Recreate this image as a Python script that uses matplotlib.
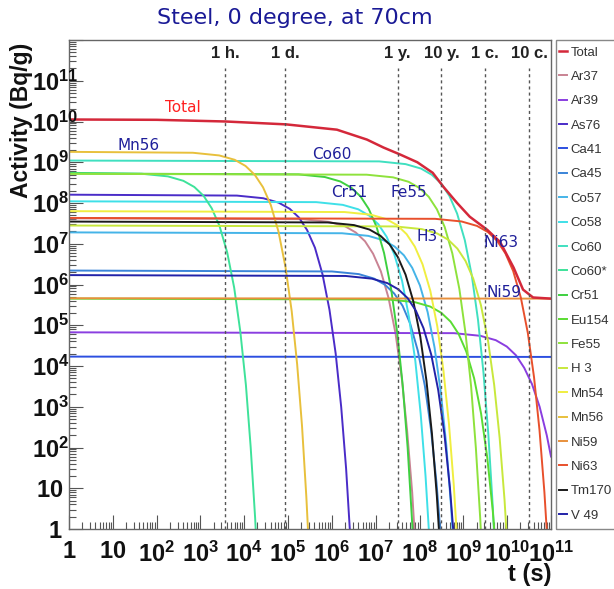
import matplotlib.pyplot as plt
from matplotlib.patches import Rectangle
from matplotlib.ticker import FixedLocator, LogLocator, NullFormatter

plt.rcParams['font.family'] = ['Liberation Sans', 'DejaVu Sans']
plt.rcParams['mathtext.fontset'] = 'custom'
plt.rcParams['mathtext.rm'] = 'Liberation Sans'
plt.rcParams['mathtext.bf'] = 'Liberation Sans:bold'
plt.rcParams['mathtext.it'] = 'Liberation Sans:italic'

# Данные: время (с) и активность (Бк/г)
total_t = [1, 100, 3.8e3, 9e4, 1.3e6, 6.3e6, 1.5e7, 3.6e7, 8.9e7, 2.0e8, 3.5e8,
           7.2e8, 1.4e9, 3.5e9, 6.9e9, 1.4e10, 2.3e10, 3.9e10, 1e11]
total_a = [1.12e10, 1.1e10, 1.0e10, 8.5e9, 6.3e9, 3.6e9, 2.3e9, 1.55e9, 1.0e9, 5.5e8,
           2.5e8, 1.0e8, 4.6e7, 2.2e7, 1.1e7, 2.6e6, 7.5e5, 4.8e5, 4.5e5]

ar37_t = [1, 2.2e5, 8.7e5, 2.0e6, 3.5e6, 5.7e6, 8.7e6, 1.31e7, 1.96e7, 2.83e7, 3.92e7, 5.2e7, 6.8e7, 8.5e7]
ar37_a = [4.2e7, 4.0e7, 3.44e7, 2.68e7, 1.89e7, 1.15e7, 5.7e6, 2.1e6, 4.7e5, 6.3e4, 5.2e3, 260, 7.8, 0.14]

ar39_t = [1, 6.1e8, 2.45e9, 5.5e9, 9.8e9, 1.59e10, 2.45e10, 3.68e10, 5.5e10, 8.0e10, 1e11]
ar39_a = [6.7e4, 6.4e4, 5.5e4, 4.3e4, 3.0e4, 1.83e4, 9.0e3, 3.6e3, 1.0e3, 200, 60]

as76_t = [1, 6.8e3, 2.7e4, 6.1e4, 1.09e5, 1.77e5, 2.72e5, 4.1e5, 6.1e5, 8.8e5, 1.22e6, 1.63e6, 2.11e6, 2.65e6]
as76_a = [1.6e8, 1.52e8, 1.31e8, 1.02e8, 7.2e7, 4.4e7, 2.16e7, 8.0e6, 1.78e6, 2.4e5, 2.0e4, 980, 30, 0.54]

ca41_t = [1, 1e11]
ca41_a = [1.7e4, 1.67e4]

ca45_t = [1, 1.0e6, 4.1e6, 9.1e6, 1.62e7, 2.64e7, 4.1e7, 6.1e7, 9.1e7, 1.32e8, 1.83e8, 2.44e8, 3.15e8]
ca45_a = [2.2e6, 2.09e6, 1.8e6, 1.4e6, 9.9e5, 6.0e5, 3.0e5, 1.1e5, 2.4e4, 3.3e3, 270, 13.5, 0.41]

co57_t = [1, 1.7e6, 6.8e6, 1.53e7, 2.71e7, 4.4e7, 6.8e7, 1.02e8, 1.53e8, 2.2e8, 3.05e8, 4.07e8, 5.25e8, 6.6e8]
co57_a = [1.9e7, 1.81e7, 1.56e7, 1.21e7, 8.5e6, 5.2e6, 2.57e6, 9.5e5, 2.1e5, 2.85e4, 2.3e3, 117, 3.5, 0.064]

co58_t = [1, 4.4e5, 1.77e6, 4.0e6, 7.1e6, 1.15e7, 1.77e7, 2.65e7, 4.0e7, 5.7e7, 8.0e7, 1.06e8, 1.37e8, 1.72e8]
co58_a = [1.1e8, 1.05e8, 9.0e7, 7.0e7, 4.9e7, 3.0e7, 1.49e7, 5.5e6, 1.22e6, 1.65e5, 1.35e4, 680, 20, 0.37]

co60_t = [1, 1.2e7, 4.8e7, 1.08e8, 1.92e8, 3.12e8, 4.8e8, 7.2e8, 1.08e9, 1.56e9, 2.16e9, 2.88e9, 3.72e9,
          4.68e9, 5.76e9]
co60_a = [1.1e9, 1.05e9, 9.0e8, 7.0e8, 4.9e8, 3.0e8, 1.49e8, 5.5e7, 1.22e7, 1.65e6, 1.35e5, 6.8e3, 205,
          3.7, 0.042]

co60m_t = [1, 45, 181, 408, 725, 1180, 1810, 2720, 4080, 5890, 8150, 1.09e4, 1.40e4, 1.77e4, 2.17e4]
co60m_a = [5.5e8, 5.23e8, 4.5e8, 3.5e8, 2.47e8, 1.5e8, 7.4e7, 2.74e7, 6.1e6, 8.3e5, 6.8e4, 3.4e3, 102,
           1.86, 0.021]

cr51_t = [1, 1.73e5, 6.9e5, 1.55e6, 2.76e6, 4.5e6, 6.9e6, 1.04e7, 1.55e7, 2.24e7, 3.1e7, 4.14e7, 5.35e7,
          6.7e7, 8.3e7]
cr51_a = [5.3e8, 5.04e8, 4.34e8, 3.38e8, 2.38e8, 1.45e8, 7.2e7, 2.64e7, 5.9e6, 7.9e5, 6.5e4, 3.25e3, 99,
          1.8, 0.02]

eu154_t = [1, 1.96e7, 7.8e7, 1.76e8, 3.13e8, 5.1e8, 7.8e8, 1.17e9, 1.76e9, 2.54e9, 3.52e9, 4.69e9, 6.06e9]
eu154_a = [4.5e5, 4.28e5, 3.69e5, 2.87e5, 2.02e5, 1.23e5, 6.1e4, 2.24e4, 5.0e3, 675, 55, 2.8, 0.084]

fe55_t = [1, 6.2e6, 2.49e7, 5.6e7, 1.0e8, 1.62e8, 2.49e8, 3.74e8, 5.6e8, 8.1e8, 1.12e9, 1.5e9, 1.93e9,
          2.43e9, 2.99e9]
fe55_a = [5.2e8, 4.95e8, 4.26e8, 3.32e8, 2.33e8, 1.42e8, 7.0e7, 2.59e7, 5.8e6, 7.8e5, 6.4e4, 3.2e3, 97,
          1.76, 0.02]

h3_t = [1, 2.8e7, 1.12e8, 2.52e8, 4.5e8, 7.3e8, 1.12e9, 1.68e9, 2.52e9, 3.65e9, 5.05e9, 6.73e9, 8.7e9, 1.09e10]
h3_a = [2.8e7, 2.66e7, 2.29e7, 1.79e7, 1.26e7, 7.6e6, 3.78e6, 1.39e6, 3.1e5, 4.2e4, 3.44e3, 172, 5.2, 0.095]

mn54_t = [1, 1.95e6, 7.8e6, 1.76e7, 3.12e7, 5.07e7, 7.8e7, 1.17e8, 1.76e8, 2.54e8, 3.51e8, 4.68e8, 6.05e8, 7.6e8]
mn54_a = [6.3e7, 6.0e7, 5.16e7, 4.02e7, 2.83e7, 1.72e7, 8.5e6, 3.14e6, 7.0e5, 9.45e4, 7.7e3, 387, 11.7, 0.21]

mn56_t = [1, 670, 2680, 6030, 1.07e4, 1.74e4, 2.68e4, 4.02e4, 6.03e4, 8.71e4, 1.21e5, 1.61e5, 2.08e5,
          2.61e5, 3.22e5]
mn56_a = [1.8e9, 1.71e9, 1.47e9, 1.15e9, 8.1e8, 4.9e8, 2.43e8, 9.0e7, 2.0e7, 2.7e6, 2.2e5, 1.1e4, 335,
          6.1, 0.068]

ni59_t = [1, 1e11]
ni59_a = [4.6e5, 4.5e5]

ni63_t = [1, 2.28e8, 9.1e8, 2.05e9, 3.65e9, 5.93e9, 9.1e9, 1.37e10, 2.05e10, 2.96e10, 4.1e10, 5.47e10,
          7.07e10, 8.9e10]
ni63_a = [4.3e7, 4.09e7, 3.52e7, 2.74e7, 1.93e7, 1.17e7, 5.8e6, 2.14e6, 4.77e5, 6.45e4, 5.3e3, 264,
          8.0, 0.146]

tm170_t = [1, 8e5, 3.2e6, 7.2e6, 1.28e7, 2.08e7, 3.2e7, 4.8e7, 7.2e7, 1.04e8, 1.44e8, 1.92e8, 2.48e8, 3.12e8]
tm170_a = [3.5e7, 3.33e7, 2.87e7, 2.23e7, 1.57e7, 9.6e6, 4.7e6, 1.74e6, 3.9e5, 5.25e4, 4.3e3, 215, 6.5, 0.12]

v49_t = [1, 2.06e6, 8.2e6, 1.85e7, 3.29e7, 5.34e7, 8.2e7, 1.23e8, 1.85e8, 2.67e8, 3.7e8, 4.93e8, 6.37e8]
v49_a = [1.7e6, 1.62e6, 1.39e6, 1.08e6, 7.6e5, 4.64e5, 2.3e5, 8.5e4, 1.89e4, 2.55e3, 209, 10.4, 0.32]

# Отметки времени: 1 час, 1 день, 1 год, 10 лет, 1 век, 10 веков
mark_t = [3600, 86400, 3.156e7, 3.156e8, 3.156e9, 3.156e10]
mark_labels = ['1 h.', '1 d.', '1 y.', '10 y.', '1 c.', '10 c.']

x_ticks = [1, 10, 1e2, 1e3, 1e4, 1e5, 1e6, 1e7, 1e8, 1e9, 1e10, 1e11]
x_tick_labels = ['1', '10', '10^{2}', '10^{3}', '10^{4}', '10^{5}', '10^{6}', '10^{7}', '10^{8}',
                 '10^{9}', '10^{10}', '10^{11}']
y_ticks = [1, 10, 1e2, 1e3, 1e4, 1e5, 1e6, 1e7, 1e8, 1e9, 1e10, 1e11, 1e12]
y_tick_labels = ['1', '10', '10^{2}', '10^{3}', '10^{4}', '10^{5}', '10^{6}', '10^{7}', '10^{8}',
                 '10^{9}', '10^{10}', '10^{11}', '']

series = [
    ('Ar37', '#c98393', ar37_t, ar37_a),
    ('Ar39', '#8a3ee0', ar39_t, ar39_a),
    ('As76', '#4a2cc8', as76_t, as76_a),
    ('Ca41', '#2c4fe0', ca41_t, ca41_a),
    ('Ca45', '#3a84d8', ca45_t, ca45_a),
    ('Co57', '#45b4e8', co57_t, co57_a),
    ('Co58', '#3fe0e8', co58_t, co58_a),
    ('Co60', '#40e0c0', co60_t, co60_a),
    ('Co60*', '#3ee29a', co60m_t, co60m_a),
    ('Cr51', '#3ed040', cr51_t, cr51_a),
    ('Eu154', '#5adc32', eu154_t, eu154_a),
    ('Fe55', '#8ee23c', fe55_t, fe55_a),
    ('H 3', '#c8e83c', h3_t, h3_a),
    ('Mn54', '#f0ee40', mn54_t, mn54_a),
    ('Mn56', '#e8c03c', mn56_t, mn56_a),
    ('Ni59', '#e8903c', ni59_t, ni59_a),
    ('Ni63', '#e8502c', ni63_t, ni63_a),
    ('Tm170', '#1a1a1a', tm170_t, tm170_a),
    ('V 49', '#2222a8', v49_t, v49_a),
]

fig = plt.figure(figsize=(6.14, 5.89), dpi=100)
ax = fig.add_axes([69 / 614, 1 - 529 / 589, 482 / 614, 489 / 589])

handles = []
labels = []
for name, color, t, a in series:
    line, = ax.plot(t, a, color=color, lw=1.4)
    handles.append(line)
    labels.append(name)
line_total, = ax.plot(total_t, total_a, color='#d4283a', lw=1.8)
handles.insert(0, line_total)
labels.insert(0, 'Total')

ax.set_xscale('log')
ax.set_yscale('log')
ax.set_xlim(1, 1e11)
ax.set_ylim(1, 1e12)

# вертикальные пунктирные линии и подписи
top_frac = (528 - 68) / 488
for t, lab in zip(mark_t, mark_labels):
    ax.axvline(t, ymin=0, ymax=top_frac, color='#555555', lw=1.0, ls=(0, (2.2, 2.2)))
    ax.text(t, 0.973, lab, transform=ax.get_xaxis_transform(), ha='center', va='center',
            fontsize=12, fontweight='bold', color='#222222')

ax.xaxis.set_major_locator(FixedLocator(x_ticks))
ax.set_xticklabels([r'$\mathbf{%s}$' % s for s in x_tick_labels])
ax.yaxis.set_major_locator(FixedLocator(y_ticks))
ax.yaxis.set_major_formatter(NullFormatter())
ax.xaxis.set_minor_locator(LogLocator(base=10, subs=range(2, 10), numticks=200))
ax.yaxis.set_minor_locator(LogLocator(base=10, subs=range(2, 10), numticks=200))
ax.xaxis.set_minor_formatter(NullFormatter())
ax.yaxis.set_minor_formatter(NullFormatter())
ax.tick_params(which='both', direction='in', color='#555555', width=0.8, top=False, right=False)
ax.tick_params(which='major', length=10, labelsize=17, labelcolor='#111111')
ax.tick_params(which='minor', length=5)
ax.tick_params(axis='x', pad=8.8)
for sp in ax.spines.values():
    sp.set_color('#666666')
    sp.set_linewidth(1.0)

# подписи оси Y как в ROOT: основание "10" выровнено, степень выступает вправо
ytrans = ax.get_yaxis_transform()
for v, s in zip(y_ticks, y_tick_labels):
    if not s:
        continue
    if '^' in s:
        ax.text(-37 / 482, v, r'$\mathbf{%s}$' % s, transform=ytrans, ha='left',
                va='center_baseline', fontsize=17, color='#111111')
    else:
        ax.text(-6 / 482, v, r'$\mathbf{%s}$' % s, transform=ytrans, ha='right',
                va='center_baseline', fontsize=17, color='#111111')

# подписи изотопов на графике
notes = [('Total', 400, 2.2e10, '#ff2020'), ('Mn56', 38, 2.6e9, '#1f1f9a'),
         ('Co60', 1.0e6, 1.55e9, '#1f1f9a'), ('Cr51', 2.5e6, 1.8e8, '#1f1f9a'),
         ('Fe55', 5.8e7, 1.8e8, '#1f1f9a'), ('H3', 1.5e8, 1.5e7, '#1f1f9a'),
         ('Ni63', 7.3e9, 1.1e7, '#1f1f9a'), ('Ni59', 8.5e9, 6.5e5, '#1f1f9a')]
for txt, x, y, c in notes:
    ax.text(x, y, txt, ha='center', va='center', fontsize=11, color=c, family='DejaVu Sans')

fig.text(22 / 614, 1 - 43 / 589, 'Activity (Bq/g)', rotation=90, ha='center', va='top',
         fontsize=16.5, fontweight='bold', color='#111111')
fig.text(552 / 614, 1 - 575 / 589, 't (s)', ha='right', va='center',
         fontsize=17, fontweight='bold', color='#111111')
fig.text(295 / 614, 1 - 18 / 589, 'Steel, 0 degree, at 70cm', ha='center', va='center',
         fontsize=16, color='#1a1a96', family='DejaVu Sans')

# рамка легенды (уходит за правый край рисунка, как в оригинале)
fig.patches.append(Rectangle((556 / 614, 1 - 529 / 589), 0.2, 489 / 589, transform=fig.transFigure,
                             fill=False, edgecolor='#888888', lw=1.0))
leg = fig.legend(handles, labels, loc='upper left', bbox_to_anchor=(556 / 614, 1 - 43 / 589),
                 borderaxespad=0, frameon=False,
                 fontsize=9.5, labelspacing=0.92, handlelength=0.6, handletextpad=0.25,
                 borderpad=0.25, labelcolor='#333333')

fig.savefig('out.png', dpi=100)
